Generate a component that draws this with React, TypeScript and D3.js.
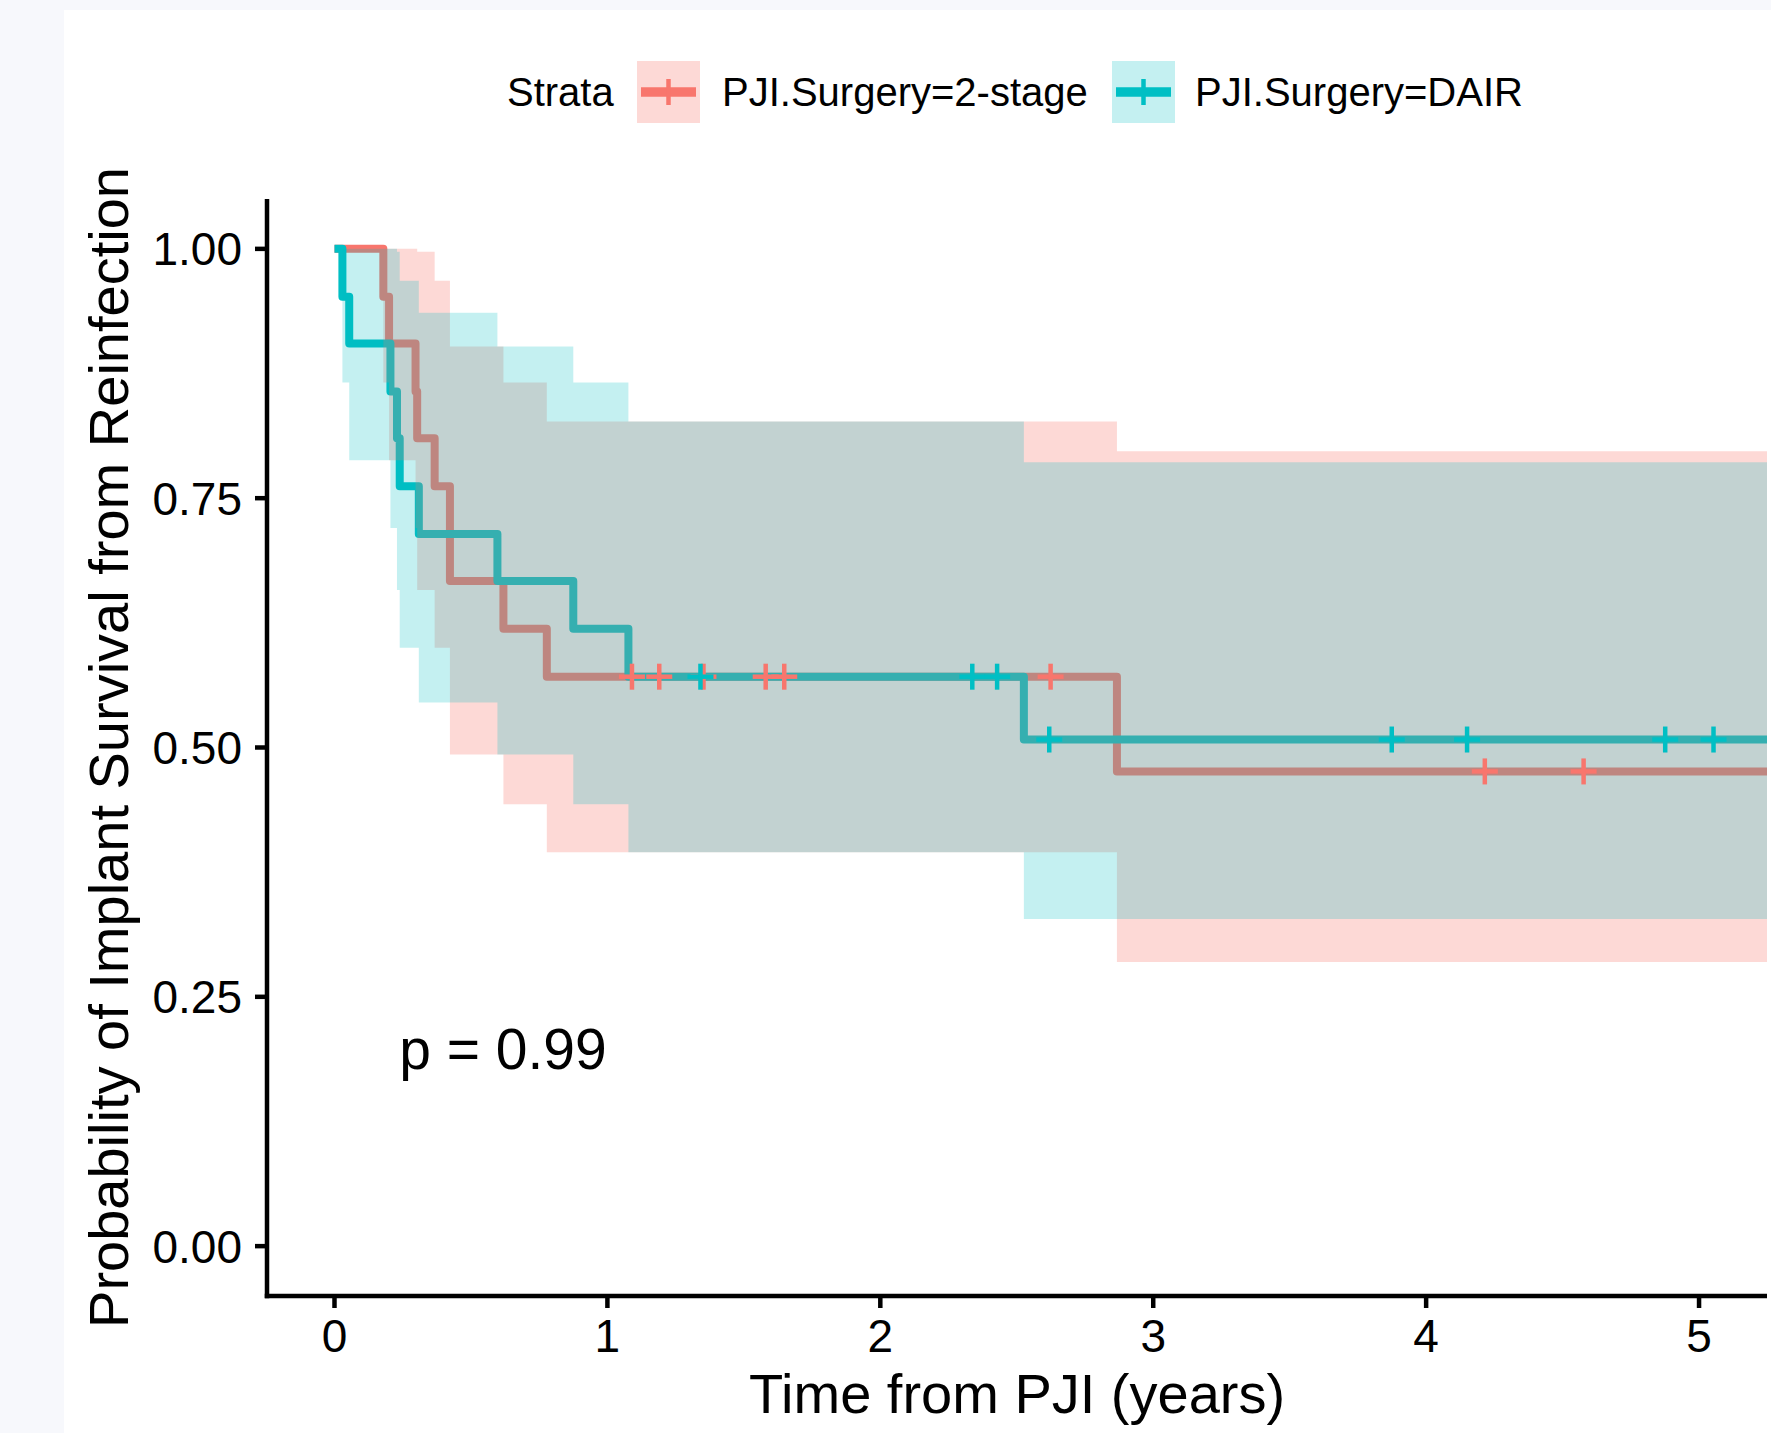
import React from 'react';
import * as d3 from 'd3';

// ---------- data ----------
const strataTitle = 'Strata';
const strataNames = ['PJI.Surgery=2-stage', 'PJI.Surgery=DAIR'];
const strataColors = ['#F8766D', '#00BFC4'];
const ribbonAlphas = [0.28, 0.23];

const twoStageTime = [0, 0.179, 0.2, 0.297, 0.303, 0.367, 0.423, 0.619, 0.778, 2.867, 5.25];
const twoStageSurv = [1, 0.952, 0.905, 0.857, 0.81, 0.762, 0.667, 0.619, 0.571, 0.476, 0.476];
const twoStageLower = [1, 0.866, 0.788, 0.72, 0.658, 0.6, 0.493, 0.443, 0.395, 0.285, 0.285];
const twoStageUpper = [1, 1, 1, 1, 0.997, 0.968, 0.902, 0.866, 0.827, 0.797, 0.797];
const twoStageCensor = [1.09, 1.19, 1.352, 1.58, 1.648, 2.624, 4.215, 4.577];

const dairTime = [0, 0.029, 0.054, 0.205, 0.229, 0.239, 0.309, 0.597, 0.875, 1.077, 2.526, 5.25];
const dairSurv = [1, 0.952, 0.905, 0.857, 0.81, 0.762, 0.714, 0.667, 0.619, 0.571, 0.508, 0.508];
const dairLower = [1, 0.866, 0.788, 0.72, 0.658, 0.6, 0.545, 0.493, 0.443, 0.395, 0.328, 0.328];
const dairUpper = [1, 1, 1, 1, 0.997, 0.968, 0.936, 0.902, 0.866, 0.827, 0.786, 0.786];
const dairCensor = [1.341, 2.337, 2.428, 2.619, 3.874, 4.15, 4.876, 5.053];

const xTicks = [0, 1, 2, 3, 4, 5];
const yTicks = [0, 0.25, 0.5, 0.75, 1];
const xTitle = 'Time from PJI (years)';
const yTitle = 'Probability of Implant Survival from Reinfection';
const pValueText = 'p = 0.99';
const pValuePos = [0.237, 0.178];

// ---------- layout ----------
const W = 1771;
const H = 1433;
const FONT = '"Liberation Sans", Arial, Helvetica, sans-serif';
const panel = { left: 267, right: 1767, top: 199, bottom: 1296 };

type Row = { t: number; s: number; lo: number; hi: number };

function buildRows(t: number[], s: number[], lo: number[], hi: number[]): Row[] {
  return t.map((tt, i) => ({ t: tt, s: s[i], lo: lo[i], hi: hi[i] }));
}

function stepValueAt(rows: Row[], t: number): number {
  let v = rows[0].s;
  for (const r of rows) {
    if (r.t <= t) v = r.s;
  }
  return v;
}

export default function App() {
  const x = d3.scaleLinear().domain([-0.2473, 5.249]).range([panel.left, panel.right]);
  const y = d3.scaleLinear().domain([-0.05, 1.05]).range([panel.bottom, panel.top]);

  const series = [
    {
      name: strataNames[0],
      color: strataColors[0],
      alpha: ribbonAlphas[0],
      rows: buildRows(twoStageTime, twoStageSurv, twoStageLower, twoStageUpper),
      censor: twoStageCensor,
    },
    {
      name: strataNames[1],
      color: strataColors[1],
      alpha: ribbonAlphas[1],
      rows: buildRows(dairTime, dairSurv, dairLower, dairUpper),
      censor: dairCensor,
    },
  ];

  const line = d3
    .line<Row>()
    .curve(d3.curveStepAfter)
    .x((d) => x(d.t))
    .y((d) => y(d.s));
  const area = d3
    .area<Row>()
    .curve(d3.curveStepAfter)
    .x((d) => x(d.t))
    .y0((d) => y(d.lo))
    .y1((d) => y(d.hi));

  const crossHalf = 13;

  const legendY = 92;
  const keyBoxes = [
    { box: 637, label: 722 },
    { box: 1112, label: 1195 },
  ];

  return (
    <svg
      width={W}
      height={H}
      style={{ position: 'absolute', left: 0, top: 0 }}
      fontFamily={FONT}
    >
      <defs>
        <clipPath id="panelClip">
          <rect
            x={panel.left}
            y={panel.top - 20}
            width={panel.right - panel.left}
            height={panel.bottom - panel.top + 20}
          />
        </clipPath>
      </defs>
      <rect x={0} y={0} width={W} height={H} fill="#f7f8fc" />
      <rect x={64} y={10} width={W - 64} height={H - 10} fill="#ffffff" />

      {/* legend */}
      <text x={507} y={106} fontSize={40} fill="#000">
        {strataTitle}
      </text>
      {series.map((s, i) => {
        const k = keyBoxes[i];
        const cx = k.box + 31.5;
        return (
          <g key={s.name}>
            <rect x={k.box} y={61} width={63} height={62} fill={s.color} fillOpacity={s.alpha} />
            <line x1={k.box + 4} x2={k.box + 59} y1={legendY} y2={legendY} stroke={s.color} strokeWidth={9.5} />
            <line x1={cx} x2={cx} y1={legendY - 13} y2={legendY + 13} stroke={s.color} strokeWidth={4.5} />
            <text x={k.label} y={106} fontSize={40} fill="#000">
              {s.name}
            </text>
          </g>
        );
      })}

      <g clipPath="url(#panelClip)">
        {/* step lines */}
        {series.map((s) => (
          <path
            key={'l' + s.name}
            d={line(s.rows) || ''}
            fill="none"
            stroke={s.color}
            strokeWidth={8}
            strokeLinejoin="round"
          />
        ))}
        {/* confidence ribbons */}
        {series.map((s) => (
          <path key={'a' + s.name} d={area(s.rows) || ''} fill={s.color} fillOpacity={s.alpha} stroke="none" />
        ))}
        {/* censor marks */}
        {series.map((s) => (
          <g key={'c' + s.name} stroke={s.color} strokeWidth={4.5}>
            {s.censor.map((t, j) => {
              const cx = x(t);
              const cy = y(stepValueAt(s.rows, t));
              return (
                <g key={j}>
                  <line x1={cx - crossHalf} x2={cx + crossHalf} y1={cy} y2={cy} />
                  <line x1={cx} x2={cx} y1={cy - crossHalf} y2={cy + crossHalf} />
                </g>
              );
            })}
          </g>
        ))}
      </g>

      {/* p-value */}
      <text x={x(pValuePos[0])} y={y(pValuePos[1])} fontSize={57} fill="#000">
        {pValueText}
      </text>

      {/* axes */}
      <line x1={panel.left} x2={panel.left} y1={panel.top} y2={panel.bottom + 2.25} stroke="#000" strokeWidth={4.5} />
      <line x1={panel.left - 2.25} x2={panel.right} y1={panel.bottom} y2={panel.bottom} stroke="#000" strokeWidth={4.5} />
      {yTicks.map((v) => (
        <g key={'y' + v}>
          <line x1={panel.left - 12} x2={panel.left} y1={y(v)} y2={y(v)} stroke="#000" strokeWidth={4.5} />
          <text x={242} y={y(v) + 16.5} fontSize={46} textAnchor="end" fill="#000">
            {v.toFixed(2)}
          </text>
        </g>
      ))}
      {xTicks.map((v) => (
        <g key={'x' + v}>
          <line x1={x(v)} x2={x(v)} y1={panel.bottom} y2={panel.bottom + 12} stroke="#000" strokeWidth={4.5} />
          <text x={x(v)} y={1351.5} fontSize={46} textAnchor="middle" fill="#000">
            {String(v)}
          </text>
        </g>
      ))}

      {/* axis titles */}
      <text x={(panel.left + panel.right) / 2} y={1413} fontSize={56} textAnchor="middle" fill="#000">
        {xTitle}
      </text>
      <text
        transform={`translate(128, ${(panel.top + panel.bottom) / 2}) rotate(-90)`}
        fontSize={56}
        textAnchor="middle"
        fill="#000"
      >
        {yTitle}
      </text>
    </svg>
  );
}
